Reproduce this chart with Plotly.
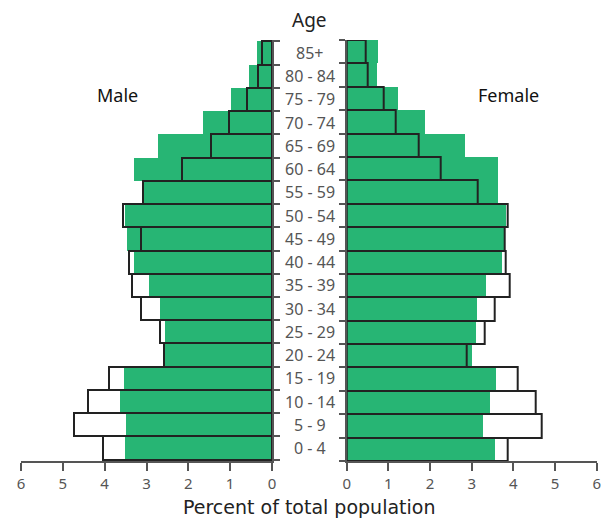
import plotly.graph_objects as go

ages = ["0 - 4", "5 - 9", "10 - 14", "15 - 19", "20 - 24", "25 - 29", "30 - 34",
        "35 - 39", "40 - 44", "45 - 49", "50 - 54", "55 - 59", "60 - 64",
        "65 - 69", "70 - 74", "75 - 79", "80 - 84", "85+"]

male_green = [3.51, 3.49, 3.63, 3.54, 2.56, 2.55, 2.67, 2.94, 3.30, 3.46,
              3.52, 3.10, 3.30, 2.72, 1.64, 0.97, 0.54, 0.37]
male_outline = [4.05, 4.73, 4.41, 3.90, 2.58, 2.67, 3.12, 3.35, 3.41, 3.14,
                3.55, 3.08, 2.15, 1.47, 1.02, 0.60, 0.34, 0.24]
female_green = [3.56, 3.27, 3.44, 3.58, 3.00, 3.10, 3.13, 3.34, 3.73, 3.76,
                3.82, 3.63, 3.63, 2.82, 1.88, 1.23, 0.73, 0.75]
female_outline = [3.86, 4.67, 4.53, 4.11, 2.88, 3.30, 3.55, 3.92, 3.82, 3.78,
                  3.86, 3.15, 2.25, 1.73, 1.18, 0.88, 0.50, 0.46]
x_ticks = [0, 1, 2, 3, 4, 5, 6]

W, H = 605, 518
GREEN = "#27b574"
AX = "#555555"
FONT = "Noto Sans"

def px(x):
    return x / W

def py(y):
    return 1 - y / H

fig = go.Figure()
fig.add_trace(go.Bar(y=ages, x=male_green, orientation="h", marker=dict(color=GREEN, line=dict(width=0)),
                     xaxis="x", yaxis="y", showlegend=False))
fig.add_trace(go.Bar(y=ages, x=male_outline, orientation="h",
                     marker=dict(color="rgba(0,0,0,0)", line=dict(color="#222222", width=2)),
                     xaxis="x", yaxis="y", showlegend=False))
fig.add_trace(go.Bar(y=ages, x=female_green, orientation="h", marker=dict(color=GREEN, line=dict(width=0)),
                     xaxis="x2", yaxis="y2", showlegend=False))
fig.add_trace(go.Bar(y=ages, x=female_outline, orientation="h",
                     marker=dict(color="rgba(0,0,0,0)", line=dict(color="#222222", width=2)),
                     xaxis="x2", yaxis="y2", showlegend=False))

ydom = [py(461), py(40)]
xcommon = dict(showgrid=False, zeroline=False, showline=True, linecolor=AX, linewidth=2,
               ticks="outside", ticklen=8, tickwidth=2, tickcolor=AX,
               tickvals=x_ticks, ticktext=[str(v) for v in x_ticks],
               tickfont=dict(family=FONT, size=15, color=AX), fixedrange=True)
ycommon = dict(showgrid=False, zeroline=False, showline=True, linecolor=AX, linewidth=2,
               ticks="outside", ticklen=6, tickwidth=2, tickcolor=AX, tickson="boundaries",
               showticklabels=False, domain=ydom, type="category",
               categoryorder="array", categoryarray=ages, fixedrange=True)

fig.update_layout(
    width=W, height=H,
    margin=dict(l=0, r=0, t=0, b=0),
    paper_bgcolor="white", plot_bgcolor="white",
    barmode="overlay", bargap=0,
    template="none",
    xaxis=dict(domain=[px(21), px(272)], range=[6, 0], anchor="y", **xcommon),
    yaxis=dict(anchor="x", side="right", **ycommon),
    xaxis2=dict(domain=[px(346.7), px(596.7)], range=[0, 6], anchor="y2", **xcommon),
    yaxis2=dict(anchor="x2", side="left", **ycommon),
)

for a in ages:
    fig.add_annotation(x=px(309.5), xref="paper", y=a, yref="y", text=a, showarrow=False,
                       xanchor="center", yanchor="middle",
                       font=dict(family=FONT, size=16, color=AX))

fig.add_annotation(x=px(309.5), y=py(20), xref="paper", yref="paper", text="Age", showarrow=False,
                   xanchor="center", yanchor="middle", font=dict(family=FONT, size=19, color="#222222"))
fig.add_annotation(x=px(117), y=py(95), xref="paper", yref="paper", text="Male", showarrow=False,
                   xanchor="center", yanchor="middle", font=dict(family=FONT, size=18, color="#111111"))
fig.add_annotation(x=px(508), y=py(95), xref="paper", yref="paper", text="Female", showarrow=False,
                   xanchor="center", yanchor="middle", font=dict(family=FONT, size=18, color="#111111"))
fig.add_annotation(x=px(309), y=py(507), xref="paper", yref="paper", text="Percent of total population",
                   showarrow=False, xanchor="center", yanchor="middle",
                   font=dict(family="DejaVu Sans", size=19, color="#222222"))

fig.write_html("out.html", config={"displayModeBar": False},
               post_script="document.body.style.margin='0px';document.body.style.overflow='hidden';")
